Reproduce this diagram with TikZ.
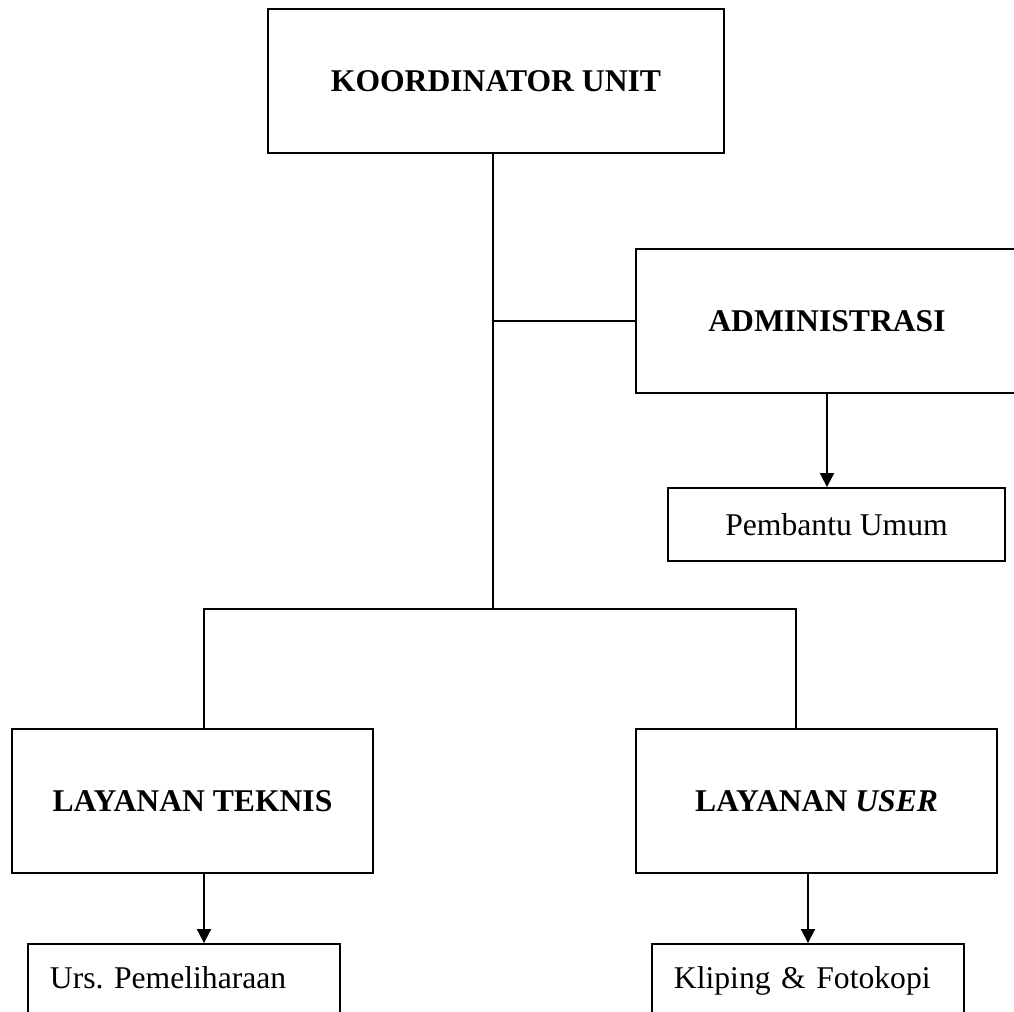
\documentclass[tikz,border=0pt]{standalone}
\usepackage{fontspec}
\setmainfont{Liberation Serif}
\usetikzlibrary{arrows.meta}

\begin{document}
\begin{tikzpicture}[x=0.025cm,y=-0.025cm,line width=1.3pt,
  box/.style={draw,rectangle,inner sep=0pt,font=\fontsize{22.5}{27}\selectfont},
  leaf/.style={box,inner xsep=0.55cm,text width=6.7cm,align=left,minimum height=1.825cm},
  arr/.style={-{Triangle[width=0.35cm,length=0.35cm]}}]
\useasboundingbox (0,0) rectangle (1014,1012);
\clip (0,0) rectangle (1014,1012);

\node[box,minimum width=9.55cm,minimum height=3.6cm] (adm) at (827,321) {\bfseries ADMINISTRASI};
\node[box,minimum width=11.4cm,minimum height=3.6cm] (ku) at (496,81) {\bfseries KOORDINATOR UNIT};
\node[box,minimum width=8.425cm,minimum height=1.825cm] (pu) at (836.5,524.5) {Pembantu Umum};
\node[box,minimum width=9.025cm,minimum height=3.6cm] (lt) at (192.5,801) {\bfseries LAYANAN TEKNIS};
\node[box,minimum width=9.025cm,minimum height=3.6cm] (lu) at (816.5,801) {\bfseries LAYANAN \textit{USER}};
\node[leaf] (urs) at (184,980.5) {\strut Urs.\ Pemeliharaan};
\node[leaf] (kf) at (808,980.5) {\strut Kliping \& Fotokopi};

\coordinate (tap) at (493,321);
\coordinate (hub) at (493,609);
\coordinate (lleft) at (204,609);
\coordinate (lright) at (796,609);

\draw (ku.south -| hub) -- (hub);
\draw (tap) -- (adm.west);
\draw (lt.north -| lleft) -- (lleft) -- (lright) -- (lu.north -| lright);

\draw[arr] (adm.south) -- (adm.south |- pu.north);
\draw[arr] (lt.south -| lleft) -- (urs.north -| lleft);
\draw[arr] (kf.north |- lu.south) -- (kf.north);

\end{tikzpicture}
\end{document}
